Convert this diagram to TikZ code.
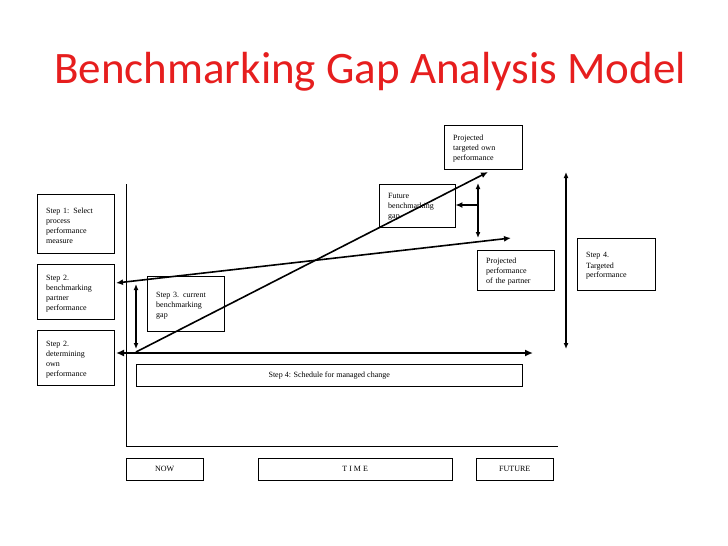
\documentclass[tikz,border=0pt]{standalone}
\usepackage{fontspec}
\setmainfont{Liberation Serif}
\newfontfamily\titlefont{Carlito}
\definecolor{titlered}{RGB}{230,30,30}
\tikzset{
	stepbox/.style={draw,anchor=north west,align=left,inner sep=0pt,font=\fontsize{8}{10}\selectfont},
	gap/.style={dash pattern=on 1.2pt off 0.8pt,line width=1.8pt,{Latex[length=6pt,width=5pt]}-{Latex[length=6pt,width=5pt]}},
	perf/.style={line width=1.6pt,-{Latex[length=7pt,width=6pt]}}
}
\usetikzlibrary{arrows.meta}
\begin{document}
\begin{tikzpicture}[x=1pt,y=-1pt]
	\useasboundingbox (0,0) rectangle (728,546);
	\node[font=\titlefont\fontsize{45}{50}\selectfont,text=titlered] (title) at (370,72){Benchmarking Gap Analysis Model};
	% boxes
	\node[stepbox,minimum width=77pt,minimum height=59pt,text width=77pt] (s1) at (37,194){\hspace*{9pt}\parbox[t]{62pt}{\vspace*{4pt}Step 1: Select\\process\\performance\\measure}};
	\node[stepbox,minimum width=77pt,minimum height=55pt,text width=77pt] (s2p) at (37,264){\hspace*{9pt}\parbox[t]{62pt}{\vspace*{4pt}Step 2.\\benchmarking\\partner\\performance}};
	\node[stepbox,minimum width=77pt,minimum height=55pt,text width=77pt] (s2o) at (37,330){\hspace*{9pt}\parbox[t]{62pt}{\vspace*{4pt}Step 2.\\determining\\own\\performance}};
	\node[stepbox,minimum width=77pt,minimum height=55pt,text width=77pt] (s3) at (147,276){\hspace*{9pt}\parbox[t]{62pt}{\vspace*{4pt}Step 3. current\\benchmarking\\gap}};
	\node[draw,minimum width=386pt,minimum height=22pt,inner sep=0pt,anchor=north west,font=\fontsize{8}{10}\selectfont] (s4) at (136,364){Step 4: Schedule for managed change};
	\node[stepbox,minimum width=76pt,minimum height=43pt,text width=76pt] (fg) at (379,184){\hspace*{9pt}\parbox[t]{62pt}{\vspace*{3pt}Future\\benchmarking\\gap}};
	\node[stepbox,minimum width=78pt,minimum height=44pt,text width=78pt] (pto) at (444,125){\hspace*{9pt}\parbox[t]{62pt}{\vspace*{3pt}Projected\\targeted own\\performance}};
	\node[stepbox,minimum width=77pt,minimum height=40pt,text width=77pt] (pp) at (477,250){\hspace*{9pt}\parbox[t]{62pt}{\vspace*{3pt}Projected\\performance\\of the partner}};
	\node[stepbox,minimum width=78pt,minimum height=52pt,text width=78pt] (s4t) at (577,238){\hspace*{9pt}\parbox[t]{62pt}{\vspace*{4pt}Step 4.\\Targeted\\performance}};
	\node[draw,minimum width=77pt,minimum height=22pt,inner sep=0pt,anchor=north west,font=\fontsize{8}{10}\selectfont] (now) at (126,458){NOW};
	\node[draw,minimum width=194pt,minimum height=22pt,inner sep=0pt,anchor=north west,font=\fontsize{8}{10}\selectfont] (time) at (258,458){T I M E};
	\node[draw,minimum width=77pt,minimum height=22pt,inner sep=0pt,anchor=north west,font=\fontsize{8}{10}\selectfont] (fut) at (476,458){FUTURE};
	% axes
	\coordinate (top) at (126,184);
	\coordinate (orig) at (126,446);
	\coordinate (right) at (558,446);
	\draw (top) -- (orig) -- (right);
	% performance lines
	\coordinate (ownL) at (116,353);
	\coordinate (ownR) at (533,353);
	\coordinate (ownS) at (136,352);
	\coordinate (ownE) at (488,172);
	\coordinate (parL) at (116,283);
	\coordinate (parR) at (511,238);
	\draw[line width=2.6pt,{Latex[length=8pt,width=7pt]}-{Latex[length=8pt,width=7pt]}] (ownL) -- (ownR);
	\draw[line width=1.6pt,{Latex[length=7pt,width=6pt]}-{Latex[length=7pt,width=6pt]}] (parL) -- (parR);
	\draw[perf] (ownS) -- (ownE);
	% gaps
	\coordinate (g1a) at (136,284);
	\coordinate (g1b) at (136,349);
	\coordinate (g2a) at (478,183);
	\coordinate (g2b) at (478,238);
	\coordinate (g2m) at (478,205);
	\coordinate (g3a) at (566,172);
	\coordinate (g3b) at (566,349);
	\draw[gap] (g1a) -- (g1b);
	\draw[gap] (g2a) -- (g2b);
	\draw[gap] (g3a) -- (g3b);
	\draw[perf] (g2m) -- (fg.east |- g2m);
\end{tikzpicture}
\end{document}
